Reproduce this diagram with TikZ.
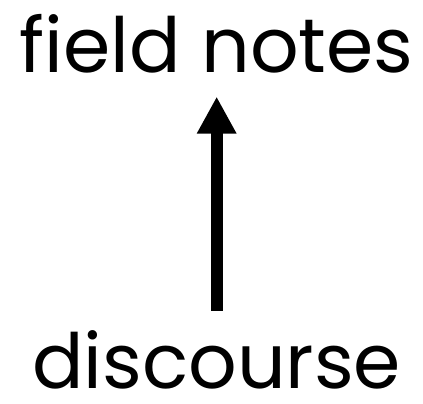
\documentclass[tikz,border=0pt]{standalone}
\usepackage{fontspec}
\setmainfont{Poppins}
\usetikzlibrary{arrows.meta}

\begin{document}
\begin{tikzpicture}[
    word/.style={inner sep=0pt, anchor=base, font=\fontsize{65}{65}\selectfont},
    arrow/.style={-{Triangle[width=1.11cm, length=1.11cm]}, line width=0.36cm, shorten >=0.68cm, shorten <=0.6cm}
]
\useasboundingbox (0,0) rectangle (12.69,12.12);

% Labels
\node[word] (notes) at (6.5,9.93) {field notes};
\node[word] (discourse) at (6.5,0.45) {discourse};

% Arrow
\draw[arrow] (discourse) -- (notes);

\end{tikzpicture}
\end{document}
